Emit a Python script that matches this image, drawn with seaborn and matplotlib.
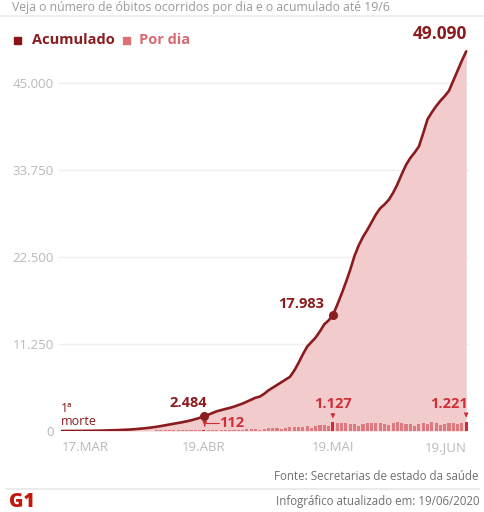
import matplotlib
matplotlib.use("Agg")
import matplotlib.pyplot as plt
import seaborn as sns
import pandas as pd

# ---------------- data ----------------
cumulative = [1, 2, 4, 7, 11, 16, 22, 30, 40, 52, 66, 82, 100, 120, 145,
              170, 200, 240, 290, 340, 400, 470, 550, 640, 740, 840, 940, 1040, 1140, 1250, 1380, 1530, 1700,
              1900, 2100, 2330, 2550, 2700, 2850, 2980, 3150, 3350, 3550, 3800, 4050,
              4300, 4450, 4800, 5250, 5600, 5950, 6300, 6650, 7000, 7800, 8800, 9900, 10900, 11500, 12100,
              12900, 13800, 14300, 15000,
              16300, 17700, 19200, 20800, 22600, 24000, 25100, 26000, 27000, 28000, 28800, 29300, 29900,
              30800, 31900, 33200, 34400, 35300, 36000, 36800, 38500, 40300, 41200, 42000, 42700, 43300,
              44000, 45300, 46600, 47900, 49090]
daily = [1, 1, 2, 3, 4, 5, 6, 8, 10, 12, 14, 16, 18, 20, 25,
         30, 42, 38, 51, 47, 60, 58, 66, 73, 70, 82, 79, 88, 95, 91, 104, 99, 108,
         112, 125, 140, 118, 150, 165, 140, 170, 190, 160, 200, 215,
         220, 190, 240, 330, 360, 340, 300, 420, 520, 560, 500, 580, 610, 450, 700, 760, 820, 640, 1127,
         1000, 1050, 980, 920, 880, 700, 910, 1000, 1030, 1060, 1000, 960, 720, 1050, 1180, 1080, 950,
         900, 640, 920, 1020, 950, 1100, 1000, 820, 940, 980, 1050, 860, 1000, 1221]
days = list(range(len(cumulative)))  # 0 = 17/03/2020 ... 94 = 19/06/2020

tick_days = [0, 33, 63, 94]
tick_labels = ["17.MAR", "19.ABR", "19.MAI", "19.JUN"]
ytick_vals = [0, 11250, 22500, 33750, 45000]
ytick_labels = ["0", "11.250", "22.500", "33.750", "45.000"]

cum_marks_days = [33, 63]
cum_marks_labels = ["2.484", "17.983"]
final_label = "49.090"
daily_marks_days = [33, 63, 94]
daily_marks_labels = ["112", "1.127", "1.221"]

# ---------------- style ----------------
DARK = "#8a1c1f"
PINK_AREA = "#f2cbcc"
BAR = "#dc7a82"
BAR_HI = "#d42a33"
RED_TXT = "#d02f38"
GRAY = "#b9b9b9"

sns.set_theme(style="white")
plt.rcParams['font.family'] = ['Open Sans', 'DejaVu Sans']

W, H = 484, 512
fig = plt.figure(figsize=(W / 100, H / 100), dpi=100)
fig.patch.set_facecolor("white")


def fx(px):
    return px / W


def fy(py):
    return 1 - py / H


x0_px, ppd = 62, 4.3
xmin, xmax = -0.6, 94.6
y0_px, ymax = 431, 50000
ppv = 87 / 11250
left_px = x0_px + xmin * ppd
ax = fig.add_axes([fx(left_px), fy(y0_px), (xmax - xmin) * ppd / W, ymax * ppv / H])

df = pd.DataFrame({"day": days, "cum": cumulative, "daily": daily})
df["kind"] = ["hi" if d in daily_marks_days else "lo" for d in days]

ax.fill_between(df["day"], df["cum"], 0, color=PINK_AREA, lw=0, zorder=1)
n_before = len(ax.patches)
sns.barplot(data=df, x="day", y="daily", hue="kind", palette={"hi": BAR_HI, "lo": BAR},
            native_scale=True, dodge=False, errorbar=None, legend=False, width=0.72,
            ax=ax, saturation=1, linewidth=0)
for p in ax.patches[n_before:]:
    p.set_zorder(3)
    p.set_edgecolor("none")
sns.lineplot(data=df, x="day", y="cum", color=DARK, lw=1.9, ax=ax, zorder=4)

# dots on cumulative
for d in cum_marks_days:
    ax.plot(d, cumulative[d], "o", color=DARK, ms=5.5, zorder=5)

ax.set_xlim(xmin, xmax)
ax.set_ylim(0, ymax)
ax.set_yticks(ytick_vals)
ax.set_yticklabels(ytick_labels)
ax.set_xticks(tick_days)
ax.set_xticklabels(tick_labels)
for lab, ha in zip(ax.get_xticklabels(), ["left", "center", "center", "right"]):
    lab.set_ha(ha)
ax.set_xlabel("")
ax.set_ylabel("")
for s in ax.spines.values():
    s.set_visible(False)
ax.grid(axis="y", color="#efefef", lw=1, zorder=0)
ax.set_axisbelow(True)
ax.tick_params(axis="both", length=0, colors=GRAY, labelsize=9.5)
ax.tick_params(axis="y", pad=4)
ax.tick_params(axis="x", pad=7)

# annotations on cumulative
ax.text(cum_marks_days[0] + 0.7, cumulative[cum_marks_days[0]] + 800, cum_marks_labels[0],
        color=DARK, fontsize=10.5, fontweight="bold", ha="right", va="bottom")
ax.text(cum_marks_days[1] - 2.0, cumulative[cum_marks_days[1]] + 500, cum_marks_labels[1],
        color=DARK, fontsize=10.5, fontweight="bold", ha="right", va="bottom")
ax.text(94.2, 49090 + 1100, final_label, color=DARK, fontsize=12.5, fontweight="bold",
        ha="right", va="bottom", clip_on=False)
ax.text(-0.2, 450, "1ª\nmorte", color=DARK, fontsize=9, ha="left", va="bottom",
        linespacing=1.0)

# annotations on daily bars
# 112 with L-shaped connector
ax.plot([33.2, 36.4], [1000, 1000], color=RED_TXT, lw=0.8, zorder=6)
ax.annotate("", xy=(33.2, 280), xytext=(33.2, 1000),
            arrowprops=dict(arrowstyle="-|>,head_width=0.1,head_length=0.2", color=RED_TXT, lw=0.8),
            zorder=6)
ax.text(36.6, 1000, daily_marks_labels[0], color=RED_TXT, fontsize=10.5, fontweight="bold",
        ha="left", va="center")
for d, lab, ha, dx in [(63, daily_marks_labels[1], "center", 0), (94, daily_marks_labels[2], "right", 0.4)]:
    ax.annotate("", xy=(d, daily[d] + 150), xytext=(d, daily[d] + 1300),
                arrowprops=dict(arrowstyle="-|>,head_width=0.1,head_length=0.2", color=RED_TXT, lw=0.8),
                zorder=6)
    ax.text(d + dx, daily[d] + 1450 + (0 if d == 63 else -90), lab, color=RED_TXT, fontsize=10.5,
            fontweight="bold", ha=ha, va="bottom")

# ---------------- figure texts ----------------
fig.text(fx(12), fy(7), "Veja o número de óbitos ocorridos por dia e o acumulado até 19/6",
         color="#9a9a9a", fontsize=8.8, ha="left", va="center")
fig.add_artist(plt.Line2D([0, 1], [fy(16), fy(16)], color="#ececec", lw=1.2))

# legend
fig.patches.append(plt.Rectangle((fx(14), fy(44)), 7 / W, 7 / H, color="#8b1318",
                                 transform=fig.transFigure, figure=fig))
fig.text(fx(32), fy(40), "Acumulado", color=DARK, fontsize=10.5, fontweight="bold",
         ha="left", va="center")
fig.patches.append(plt.Rectangle((fx(123), fy(44)), 7 / W, 7 / H, color="#de7178",
                                 transform=fig.transFigure, figure=fig))
fig.text(fx(139), fy(40), "Por dia", color="#d86a72", fontsize=10.5, fontweight="bold",
         ha="left", va="center")

fig.text(fx(479), fy(476), "Fonte: Secretarias de estado da saúde", color="#707070", fontsize=8.3,
         ha="right", va="center")
fig.add_artist(plt.Line2D([0.012, 0.99], [fy(489), fy(489)], color="#e8e8e8", lw=1.2))
fig.text(fx(479), fy(502), "Infográfico atualizado em: 19/06/2020", color="#707070", fontsize=8.3,
         ha="right", va="center")
fig.text(fx(9), fy(502), "G1", color="#c4170c", fontsize=14, fontweight="heavy",
         ha="left", va="center")

fig.savefig("out.png", dpi=100, facecolor="white")
